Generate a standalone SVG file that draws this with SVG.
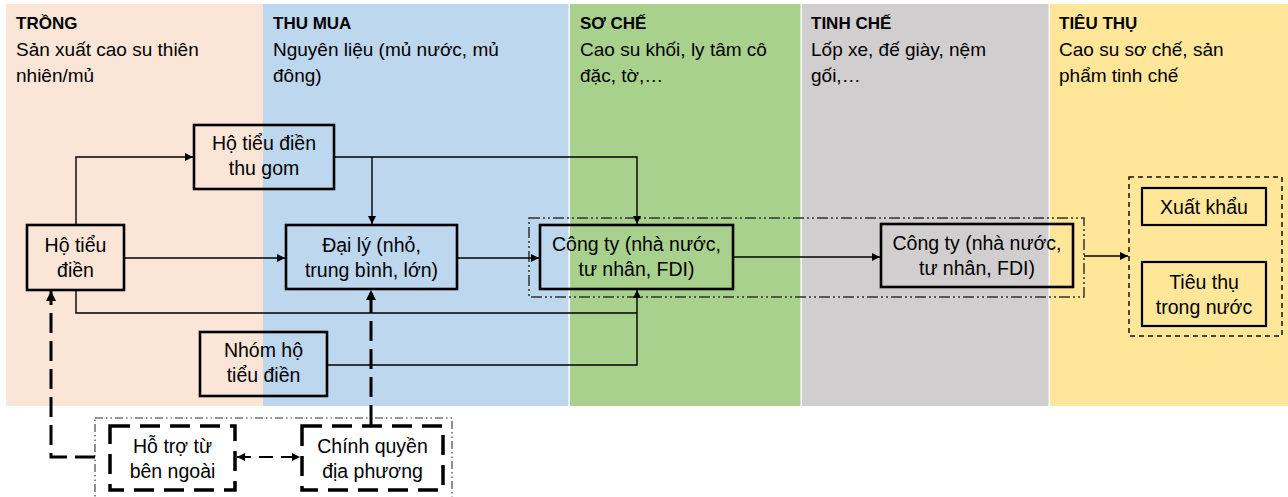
<svg xmlns="http://www.w3.org/2000/svg" width="1288" height="497" viewBox="0 0 1288 497">
<style>
.hd{font-family:"Liberation Sans",Arial,sans-serif;font-size:17px;font-weight:bold;fill:#000}
.sub{font-family:"Liberation Sans",Arial,sans-serif;font-size:19px;fill:#000}
.t{font-family:"Liberation Sans",Arial,sans-serif;font-size:19.5px;fill:#000;text-anchor:middle}
.box{fill:none;stroke:#000;stroke-width:2.6}
.box2{fill:none;stroke:#000;stroke-width:2.2}
.dbox{fill:none;stroke:#000;stroke-width:3.5;stroke-dasharray:20 10}
.ln{fill:none;stroke:#000;stroke-width:1.4}
.dl{fill:none;stroke:#000;stroke-width:3;stroke-dasharray:20 8}
.dl2{fill:none;stroke:#000;stroke-width:2;stroke-dasharray:14 8}
.dd{fill:none;stroke:#333;stroke-width:1.5;stroke-dasharray:11 3 2 3 2 3}
.dd2{fill:none;stroke:#333;stroke-width:1.1;stroke-dasharray:8 3 1.5 3 1.5 3}
.da{fill:none;stroke:#111;stroke-width:1.5;stroke-dasharray:5 4}
</style>
<defs>
<marker id="ah" viewBox="0 0 10 10" refX="10" refY="5" markerWidth="8" markerHeight="8" markerUnits="userSpaceOnUse" orient="auto-start-reverse"><path d="M0,0 L10,5 L0,10 z" fill="#000"/></marker>
<marker id="ahb" viewBox="0 0 10 10" refX="10" refY="5" markerWidth="10" markerHeight="10" markerUnits="userSpaceOnUse" orient="auto-start-reverse"><path d="M0,0 L10,5 L0,10 z" fill="#000"/></marker>
</defs>
<rect width="1288" height="497" fill="#fff"/>
<g id="lanes">
<rect x="6" y="4" width="257" height="402" fill="#FBE5D6"/>
<rect x="263" y="4" width="305.5" height="402" fill="#BDD7EE"/>
<rect x="570" y="4" width="230.5" height="402" fill="#A9D18E"/>
<rect x="802" y="4" width="246.5" height="402" fill="#D0CECE"/>
<rect x="1050" y="4" width="238" height="402" fill="#FFE699"/>
<text class="hd" x="16" y="29">TRỒNG</text>
<text class="sub" x="16" y="56">Sản xuất cao su thiên</text>
<text class="sub" x="16" y="82">nhiên/mủ</text>
<text class="hd" x="273" y="29">THU MUA</text>
<text class="sub" x="273" y="56">Nguyên liệu (mủ nước, mủ</text>
<text class="sub" x="273" y="82">đông)</text>
<text class="hd" x="580" y="29">SƠ CHẾ</text>
<text class="sub" x="580" y="56">Cao su khối, ly tâm cô</text>
<text class="sub" x="580" y="82">đặc, tờ,…</text>
<text class="hd" x="811" y="29">TINH CHẾ</text>
<text class="sub" x="811" y="56">Lốp xe, đế giày, nệm</text>
<text class="sub" x="811" y="82">gối,…</text>
<text class="hd" x="1059" y="29">TIÊU THỤ</text>
<text class="sub" x="1059" y="56">Cao su sơ chế, sản</text>
<text class="sub" x="1059" y="82">phẩm tinh chế</text>
</g>
<g id="groups">
<rect class="dd" x="529" y="218" width="555" height="79"/>
<rect class="da" x="1129" y="177" width="153" height="159"/>
<rect class="dd2" x="95" y="418" width="357" height="90"/>
</g>
<g id="connectors">
<polyline class="ln" points="76,225 76,157 193,157" marker-end="url(#ah)"/>
<polyline class="ln" points="334,157 637,157 637,224" marker-end="url(#ah)"/>
<polyline class="ln" points="372,157 372,224" marker-end="url(#ah)"/>
<line class="ln" x1="124" y1="258" x2="285" y2="258" marker-end="url(#ah)"/>
<line class="ln" x1="457" y1="258" x2="539" y2="258" marker-end="url(#ah)"/>
<polyline class="ln" points="76,290 76,313 637,313"/>
<polyline class="ln" points="327,365 637,365 637,290" marker-end="url(#ah)"/>
<line class="ln" x1="733" y1="257" x2="880" y2="257" marker-end="url(#ah)"/>
<line class="ln" x1="1084" y1="256" x2="1128" y2="256" marker-end="url(#ah)"/>
<polyline class="dl" points="95,457 51,457 51,291" marker-end="url(#ahb)"/>
<line class="dl" x1="371" y1="425" x2="371" y2="290" marker-end="url(#ahb)"/>
<line class="dl2" x1="237" y1="457" x2="300" y2="457" marker-start="url(#ah)" marker-end="url(#ah)"/>
</g>
<g id="n-thugom">
<rect class="box" x="194" y="125" width="140" height="64"/>
<text class="t" x="264" y="150">Hộ tiểu điền</text>
<text class="t" x="264" y="175">thu gom</text>
</g>
<g id="n-hotieudien">
<rect class="box" x="27" y="225" width="97" height="65"/>
<text class="t" x="75.5" y="252">Hộ tiểu</text>
<text class="t" x="75.5" y="277">điền</text>
</g>
<g id="n-daily">
<rect class="box" x="286" y="225" width="171" height="64"/>
<text class="t" x="371.5" y="252">Đại lý (nhỏ,</text>
<text class="t" x="371.5" y="277">trung bình, lớn)</text>
</g>
<g id="n-nhomho">
<rect class="box" x="200" y="332" width="127" height="64"/>
<text class="t" x="263.5" y="357">Nhóm hộ</text>
<text class="t" x="263.5" y="382">tiểu điền</text>
</g>
<g id="n-congty1">
<rect class="box" x="540" y="225" width="193" height="64"/>
<text class="t" x="636.5" y="251">Công ty (nhà nước,</text>
<text class="t" x="636.5" y="276">tư nhân, FDI)</text>
</g>
<g id="n-congty2">
<rect class="box" x="881" y="224" width="192" height="63"/>
<text class="t" x="977" y="250">Công ty (nhà nước,</text>
<text class="t" x="977" y="275">tư nhân, FDI)</text>
</g>
<g id="n-xuatkhau">
<rect class="box2" x="1142" y="188" width="124" height="37"/>
<text class="t" x="1204" y="214">Xuất khẩu</text>
</g>
<g id="n-tieuthu">
<rect class="box2" x="1142" y="262" width="124" height="64"/>
<text class="t" x="1204" y="289">Tiêu thụ</text>
<text class="t" x="1204" y="314">trong nước</text>
</g>
<g id="n-hotro">
<rect class="dbox" x="110" y="426" width="125" height="64"/>
<text class="t" x="172.5" y="453">Hỗ trợ từ</text>
<text class="t" x="172.5" y="478">bên ngoài</text>
</g>
<g id="n-chinhquyen">
<rect class="dbox" x="302" y="426" width="141" height="64"/>
<text class="t" x="372.5" y="453">Chính quyền</text>
<text class="t" x="372.5" y="478">địa phương</text>
</g>
</svg>
